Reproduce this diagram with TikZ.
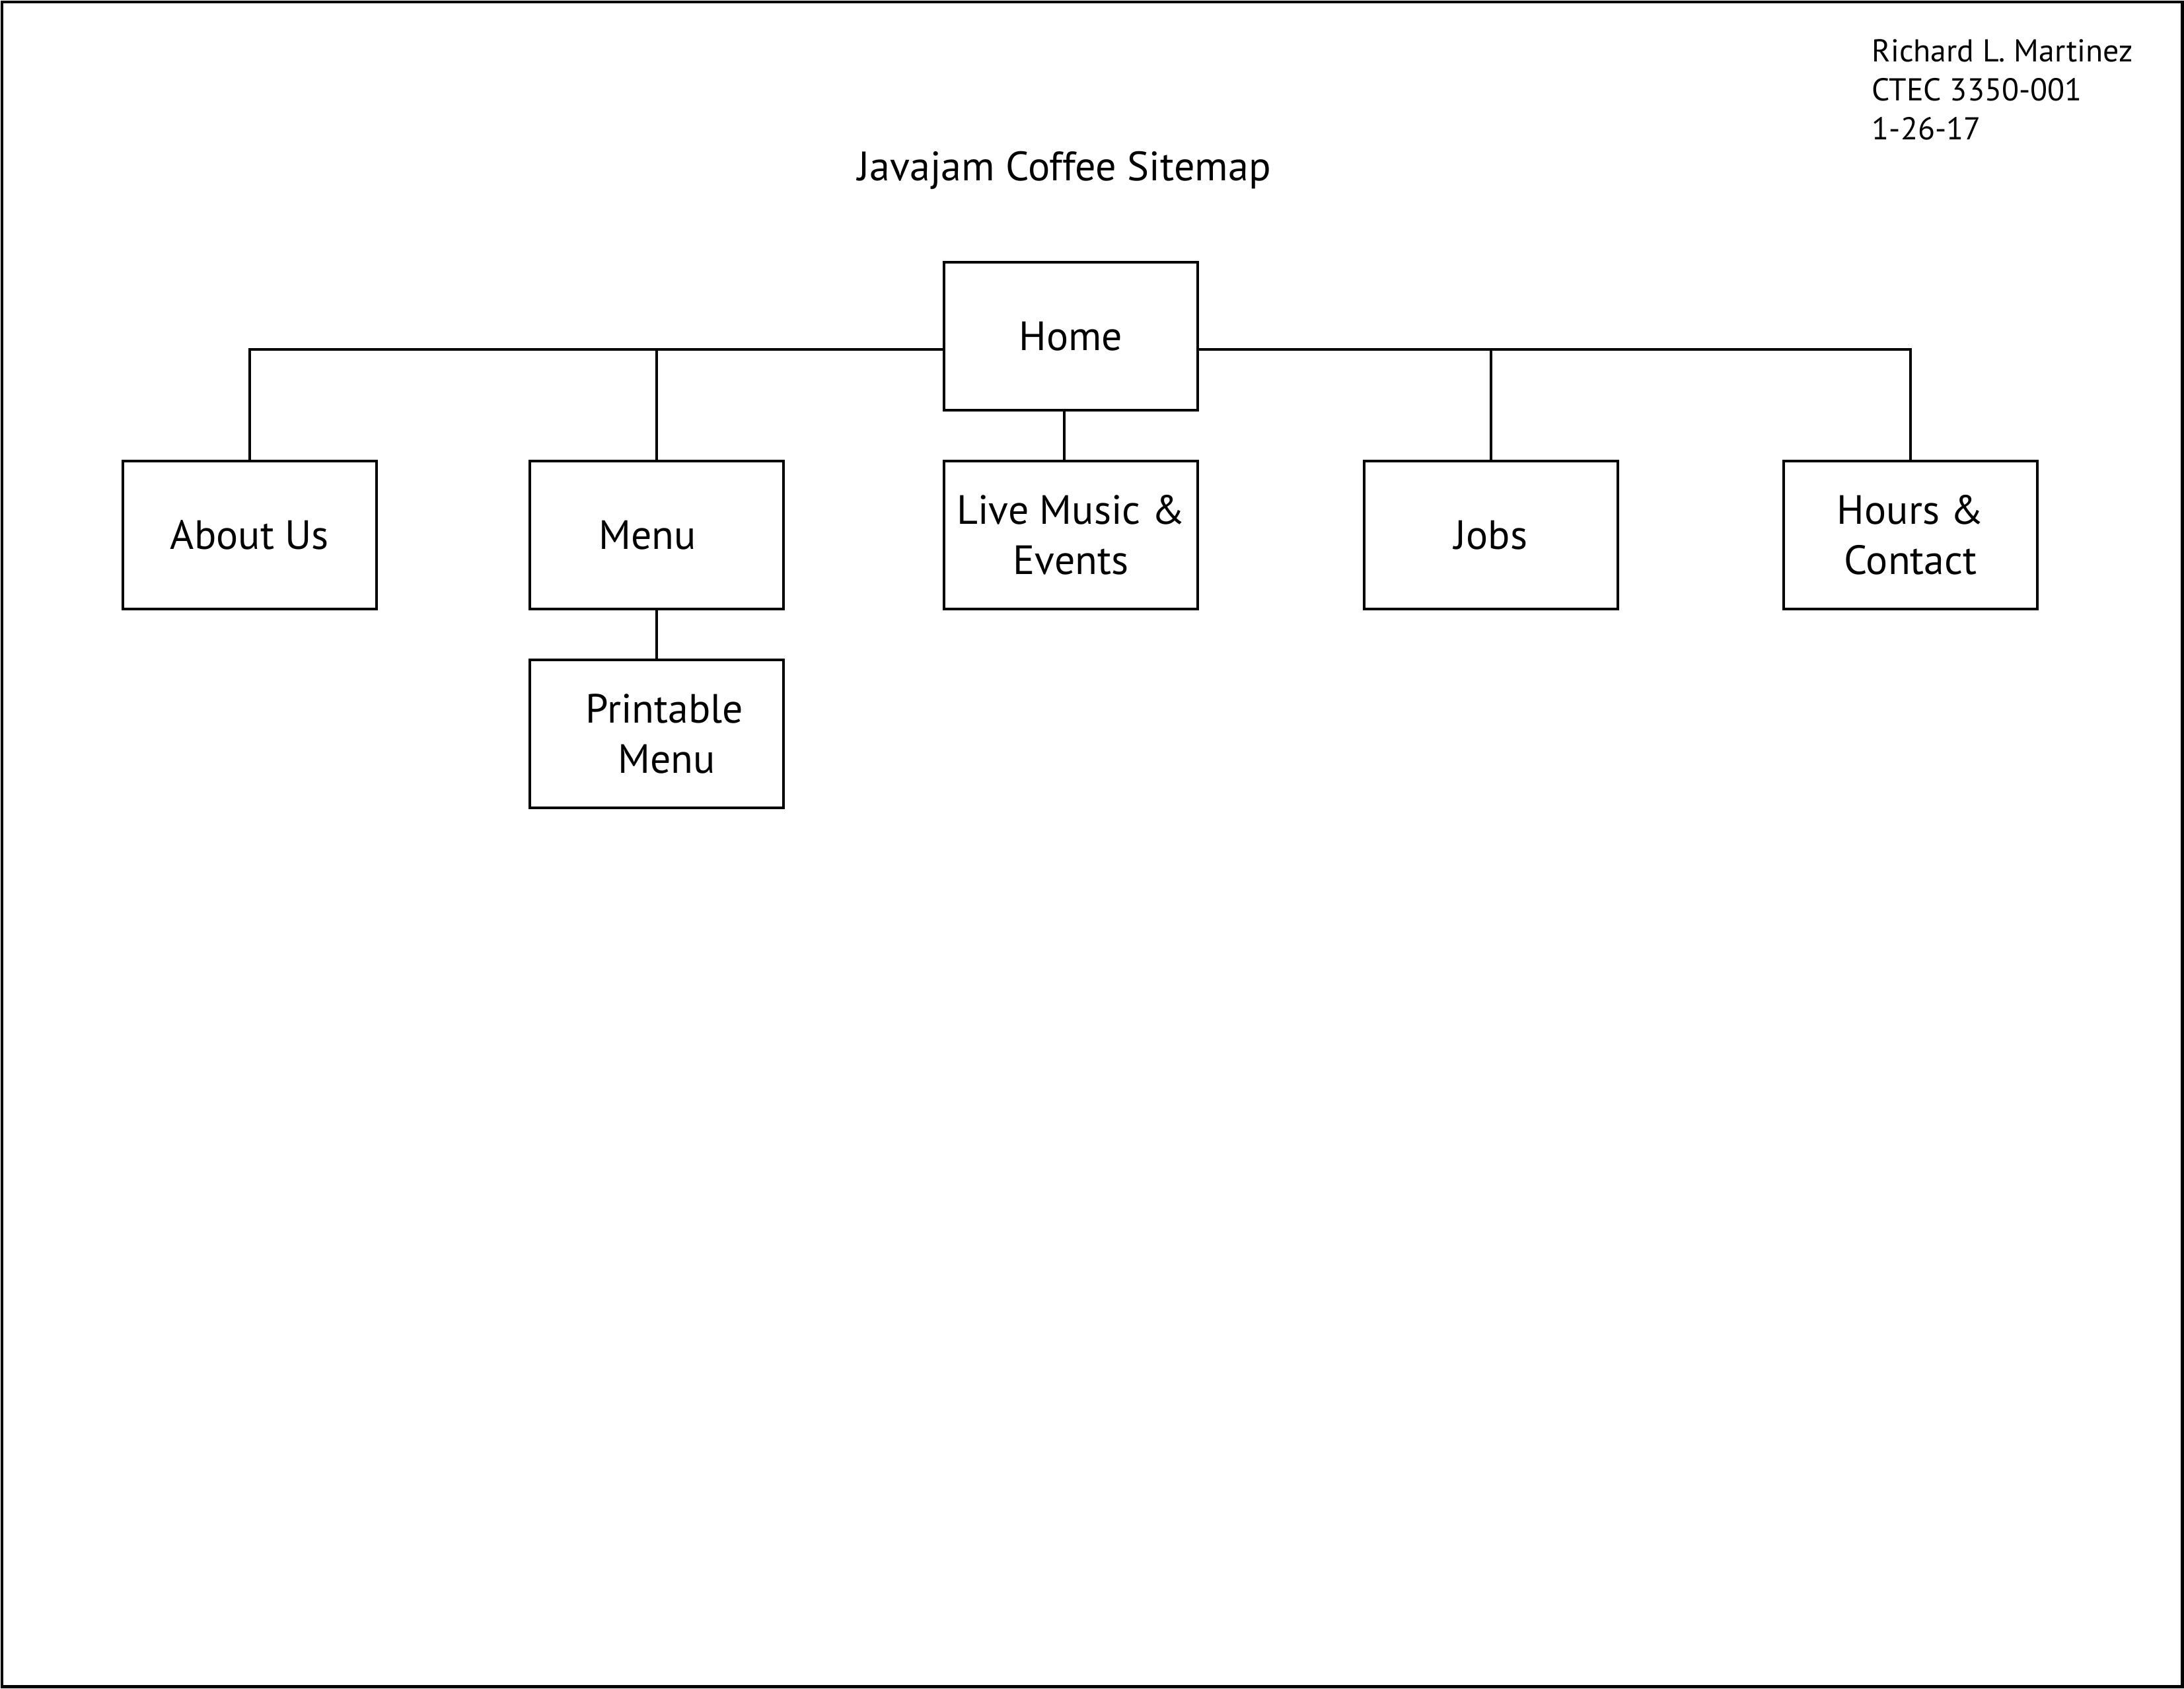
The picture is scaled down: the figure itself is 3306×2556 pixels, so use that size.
\documentclass[tikz,border=0pt]{standalone}
\usepackage{fontspec}
\setmainfont{PT Sans}
\begin{document}
\begin{tikzpicture}[x=0.01cm,y=-0.01cm,
  pagebox/.style={draw,line width=1.4pt},
  sitebox/.style={draw,line width=1.15pt,rectangle,minimum width=3.84cm,minimum height=2.24cm,inner sep=0pt,align=center,
    font=\fontsize{17.6}{21.6}\selectfont},
  link/.style={line width=0.95pt},
  titletext/.style={anchor=base,inner sep=0pt,font=\fontsize{17.7}{21.6}\selectfont},
  authortext/.style={anchor=base west,inner sep=0pt,font=\fontsize{13.6}{16.8}\selectfont}]
\useasboundingbox (0,0) rectangle (3306,2556);
\draw[pagebox] (3,3) rectangle (3303,2553);

\node[titletext] (title) at (1611,273) {Javajam Coffee Sitemap};
\node[authortext] (author1) at (2833,93) {Richard L. Martinez};
\node[authortext] (author2) at (2833,152) {CTEC 3350-001};
\node[authortext] (author3) at (2833,211) {1-26-17};

\node[sitebox] (home) at (1621,509) {Home};
\node[sitebox] (about) at (378,810) {About Us};
\node[sitebox] (menu) at (994,810) {\hspace*{-0.28cm}Menu};
\node[sitebox] (live) at (1621,810) {Live Music \&\\Events};
\node[sitebox] (jobs) at (2257,810) {Jobs};
\node[sitebox] (hours) at (2892,810) {Hours \&\\Contact};
\node[sitebox] (print) at (994,1111) {\hspace*{0.24cm}Printable\\\hspace*{0.3cm}Menu};

\draw[link] ([yshift=-0.2cm]home.west) -| (about.north);
\draw[link] ([yshift=-0.2cm]home.west) -| (menu.north);
\draw[link] ([yshift=-0.2cm]home.east) -| (jobs.north);
\draw[link] ([yshift=-0.2cm]home.east) -| (hours.north);
\draw[link] ([xshift=-0.1cm]home.south) -- ([xshift=-0.1cm]live.north);
\draw[link] (menu.south) -- (print.north);
\end{tikzpicture}
\end{document}
